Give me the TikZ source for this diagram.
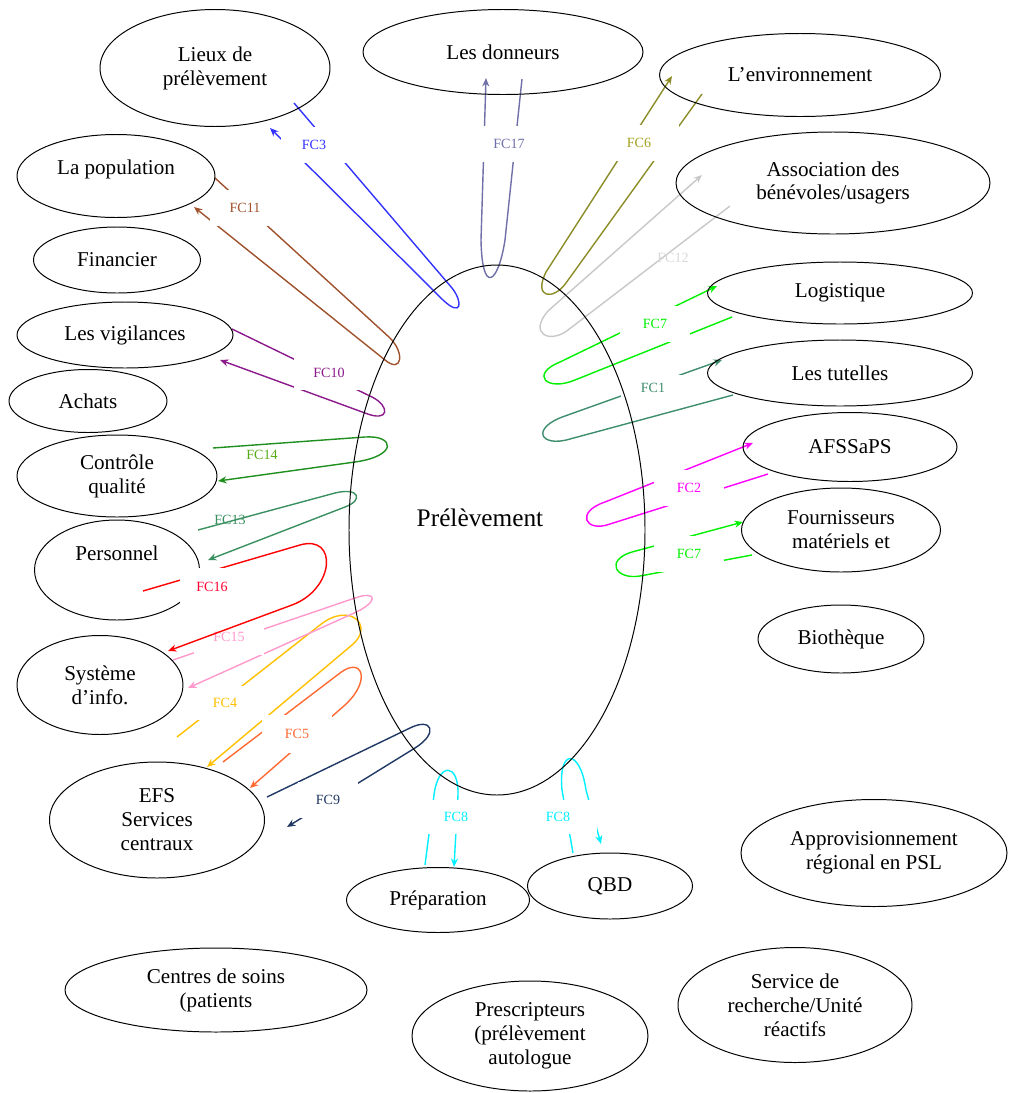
\documentclass[tikz,border=0pt]{standalone}
\usepackage{fontspec}
\setmainfont{Liberation Serif}
\usetikzlibrary{arrows.meta,calc,shapes.geometric}
\definecolor{fcblue}{HTML}{3333FF}
\definecolor{fcslate}{HTML}{7070A8}
\definecolor{fcolive}{HTML}{8C8C28}
\definecolor{fcgray}{HTML}{C8C8C8}
\definecolor{fclime}{HTML}{00F000}
\definecolor{fcsea}{HTML}{3E8E6E}
\definecolor{fcmagenta}{HTML}{FF00FF}
\definecolor{fcbrown}{HTML}{A0522D}
\definecolor{fcpurple}{HTML}{8B1A8B}
\definecolor{fcgreen}{HTML}{1F8F1F}
\definecolor{fcseagreen}{HTML}{3A9060}
\definecolor{fcred}{HTML}{FF0000}
\definecolor{fcpink}{HTML}{FF99CC}
\definecolor{fcgold}{HTML}{FFC000}
\definecolor{fcorange}{HTML}{FF6A33}
\definecolor{fcnavy}{HTML}{203864}
\definecolor{fccyan}{HTML}{00F0FF}
\pgfdeclarelayer{bg}
\pgfsetlayers{bg,main}

\begin{document}
\begin{tikzpicture}[
  x=0.025cm, y=-0.025cm,
  elt/.style 2 args={draw, ellipse, line width=0.7pt, inner sep=0pt, align=center,
                     minimum width=#1*0.025cm, minimum height=#2*0.025cm,
                     font=\fontsize{15}{17}\selectfont},
  fc/.style={line width=1pt, -{Stealth[length=6pt,width=5pt]}},
  lab/.style={font=\fontsize{10}{12}\selectfont, inner sep=0pt},
  boxlab/.style={lab, fill=white, minimum width=70*0.025cm, minimum height=36*0.025cm}
]
  \useasboundingbox (0,0) rectangle (1012,1093);

  % product
  \node[elt={296}{530}] (prel) at (497,530) {};
  \node[font=\fontsize{18}{20}\selectfont] (prelT) at (480,518) {Prélèvement};

  % surrounding elements
  \node[elt={230}{117}] (lieux) at (215,68) {Lieux de\\prélèvement};
  \node[elt={280}{85}] (donneurs) at (503,52) {Les donneurs};
  \node[elt={281}{83}] (envir) at (800,75) {L’environnement};
  \node[elt={314}{102}] (assoc) at (833,183) {Association des\\bénévoles/usagers};
  \node[elt={265}{62}] (logist) at (840,293) {Logistique};
  \node[elt={265}{66}] (tutelles) at (840,373) {Les tutelles};
  \node[elt={214}{69}] (afssaps) at (850,447) {AFSSaPS};
  \node[elt={199}{84}] (fourn) at (841,530) {Fournisseurs\\matériels et};
  \node[elt={166}{68}] (bioth) at (841,639) {Biothèque};
  \node[elt={266}{107}] (appro) at (874,853) {Approvisionnement\\régional en PSL};
  \node[elt={234}{115}] (service) at (795,1005) {Service de\\recherche/Unité\\réactifs};
  \node[elt={236}{110}] (prescr) at (530,1036) {Prescripteurs\\(prélèvement\\autologue};
  \node[elt={302}{84}] (centres) at (216,990) {Centres de soins\\(patients};
  \node[elt={183}{65}] (prepa) at (438,900) {Préparation};
  \node[elt={165}{66}] (qbd) at (610,886) {QBD};
  \node[elt={215}{116}] (efs) at (157,820) {EFS\\Services\\centraux};
  \node[elt={166}{99}] (sysinfo) at (100,685) {Système\\d’info.};
  \node[elt={200}{82}] (cq) at (117,476) {Contrôle\\qualité};
  \node[elt={158}{63}] (achats) at (88,401) {Achats};
  \node[elt={216}{66}] (vigil) at (125,335) {Les vigilances};
  \node[elt={167}{66}] (financier) at (117,260) {Financier};
  \node[elt={198}{83}] (popul) at (116,176) {\raisebox{5pt}[\height][\depth]{La population}};

  \begin{pgfonlayer}{bg}
  \node[elt={165}{100}] (personnel) at (117,570) {\raisebox{12pt}[\height][\depth]{Personnel}};

  % top and right side
  \draw[fc, fcblue] ($(lieux)+(79,35)$) -- (452,288) .. controls (463,302) and (462,318) .. (443,300) -- ($(lieux)+(55,60)$);
  \node[boxlab, text=fcblue, minimum width=66*0.025cm] (l3) at (314,145) {FC3};
  \draw[fc, fcslate] ($(donneurs)+(19,27)$) -- (505,240) .. controls (498,285) and (482,295) .. (481,240) -- ($(donneurs)+(-17,26)$);
  \node[boxlab, text=fcslate] (l17) at (509,144) {FC17};
  \draw[fc, fcolive] ($(envir)+(-98,19)$) -- (566,283) .. controls (553,301) and (533,298) .. (546,272) -- ($(envir)+(-128,1)$);
  \node[boxlab, text=fcolive!80!yellow, minimum width=80*0.025cm] (l6) at (639,143) {FC6};
  \draw[fc, fcgray] ($(assoc)+(-103,23)$) -- (568,330) .. controls (550,344) and (528,334) .. (548,311) -- ($(assoc)+(-131,-8)$);
  \node[lab, text=fcgray!70] (l12) at (673,258) {FC12};
  \draw[fc, fclime] ($(logist)+(-108,24)$) -- (575,380) .. controls (546,392) and (530,374) .. (560,362) -- ($(logist)+(-123,-7)$);
  \node[boxlab, text=fclime] (l7a) at (655,324) {FC7};
  \draw[fc, fcsea] ($(tutelles)+(-107,22)$) -- (570,439) .. controls (540,448) and (530,428) .. (565,416) -- ($(tutelles)+(-118,-13)$);
  \node[boxlab, text=fcsea, minimum width=64*0.025cm, minimum height=26*0.025cm] (l1) at (653,388) {FC1};
  \draw[fc, fcmagenta] ($(afssaps)+(-82,27)$) -- (610,524) .. controls (585,533) and (575,512) .. (605,502) -- ($(afssaps)+(-97,-4)$);
  \node[boxlab, text=fcmagenta] (l2) at (689,488) {FC2};
  \draw[fc, fclime] ($(fourn)+(-89,25)$) -- (640,576) .. controls (615,580) and (605,560) .. (632,552) -- ($(fourn)+(-98,-8)$);
  \node[boxlab, text=fclime] (l7b) at (689,554) {FC7};

  % left side
  \draw[fc, fcbrown] ($(popul)+(99,2)$) -- (390,338) .. controls (405,353) and (402,374) .. (385,360) -- ($(popul)+(78,31)$);
  \node[boxlab, text=fcbrown] (l11) at (245,208) {FC11};
  \draw[fc, fcpurple] ($(vigil)+(107,-6)$) -- (372,397) .. controls (390,406) and (390,423) .. (365,413) -- ($(vigil)+(95,25)$);
  \node[boxlab, text=fcpurple, minimum height=34*0.025cm] (l10) at (329,373) {FC10};
  \draw[fc, fcgreen] ($(cq)+(96,-28)$) -- (365,437) .. controls (395,435) and (398,456) .. (355,462) -- ($(cq)+(101,5)$);
  \node[lab, text=fcgreen!75!yellow] (l14) at (262,455) {FC14};
  \draw[fc, fcseagreen] ($(personnel)+(81,-40)$) -- (335,493) .. controls (359,487) and (364,500) .. (345,507) -- ($(personnel)+(91,-10)$);
  \node[lab, text=fcseagreen] (l13) at (230,520) {FC13};
  \draw[fc, fcgold] ($(sysinfo)+(77,52)$) -- (320,625) .. controls (350,601) and (375,626) .. (352,645) -- ($(efs)+(50,-53)$);
  \node[boxlab, text=fcgold, minimum width=56*0.025cm, minimum height=34*0.025cm] (l4) at (225,703) {FC4};
  \draw[fc, fcorange] ($(efs)+(66,-58)$) -- (340,673) .. controls (362,656) and (372,680) .. (345,705) -- ($(efs)+(93,-32)$);
  \node[boxlab, text=fcorange, minimum height=38*0.025cm] (l5) at (297,734) {FC5};
  \draw[fc, fcnavy] ($(efs)+(110,-23)$) -- (410,728) .. controls (432,717) and (439,733) .. (415,748) -- ($(efs)+(130,7)$);
  \node[boxlab, text=fcnavy, minimum width=60*0.025cm] (l9) at (328,800) {FC9};
  \draw[fc, fcpink] ($(sysinfo)+(73,-25)$) -- (355,598) .. controls (377,590) and (380,602) .. (352,614) -- ($(sysinfo)+(88,3)$);
  \node[boxlab, text=fcpink] (l15) at (229,637) {FC15};
  \draw[fc, fcred] ($(personnel)+(26,21)$) -- (300,545) .. controls (338,534) and (335,589) .. (292,605) -- ($(sysinfo)+(68,-34)$);
  \node[boxlab, text=fcred!80!magenta, minimum width=64*0.025cm, minimum height=38*0.025cm] (l16) at (212,587) {FC16};

  % bottom
  \draw[fc, fccyan] ($(prepa)+(-13,-35)$) -- (434,795) .. controls (438,762) and (459,762) .. (458,795) -- ($(prepa)+(16,-33)$);
  \node[boxlab, text=fccyan, minimum width=64*0.025cm, minimum height=34*0.025cm] (l8a) at (456,817) {FC8};
  \draw[fc, fccyan] ($(qbd)+(-37,-33)$) -- (562,790) .. controls (558,748) and (580,748) .. (586,790) -- ($(qbd)+(-9,-42)$);
  \node[boxlab, text=fccyan, minimum width=78*0.025cm, minimum height=34*0.025cm] (l8b) at (558,817) {FC8};
  \end{pgfonlayer}
\end{tikzpicture}
\end{document}
